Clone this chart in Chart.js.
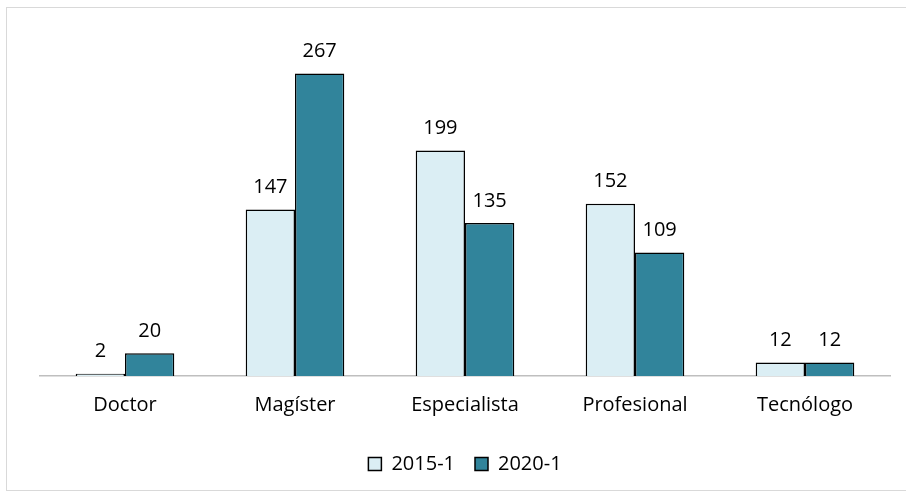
<!DOCTYPE html>
<html>
<head>
<meta charset="utf-8">
<script src="https://cdn.jsdelivr.net/npm/chart.js@4"></script>
<style>
  html, body { margin: 0; padding: 0; background: #fff; }
  #wrap { position: relative; width: 906px; height: 495px; }
  #frame { position: absolute; left: 6px; top: 7px; width: 905px; height: 484px; border: 1px solid #d9d9d9; box-sizing: border-box; }
  canvas { position: absolute; left: 0; top: 0; }
</style>
</head>
<body>
<div id="wrap">
  <div id="frame"></div>
  <canvas id="chart" width="906" height="495"></canvas>
</div>
<script>
const categories = ['Doctor', 'Magíster', 'Especialista', 'Profesional', 'Tecnólogo'];
const series2015 = [2, 147, 199, 152, 12];
const series2020 = [20, 267, 135, 109, 12];
const seriesNames = ['2015-1', '2020-1'];

const fontFamily = "'Open Sans', 'Noto Sans', sans-serif";

// draws the value above each bar
const barLabels = {
  id: 'barLabels',
  afterDatasetsDraw(chart) {
    const ctx = chart.ctx;
    ctx.save();
    ctx.font = '20px ' + fontFamily;
    ctx.fillStyle = '#000';
    ctx.textAlign = 'center';
    ctx.textBaseline = 'bottom';
    chart.data.datasets.forEach((ds, i) => {
      const meta = chart.getDatasetMeta(i);
      meta.data.forEach((bar, j) => {
        ctx.fillText(ds.data[j], bar.x, bar.y - 12);
      });
    });
    ctx.restore();
  }
};

new Chart(document.getElementById('chart'), {
  type: 'bar',
  data: {
    labels: categories,
    datasets: [
      {
        label: seriesNames[0],
        data: series2015,
        backgroundColor: '#dbeef4',
        borderColor: '#000',
        borderWidth: 1.5,
        borderSkipped: 'bottom'
      },
      {
        label: seriesNames[1],
        data: series2020,
        backgroundColor: '#31849b',
        borderColor: '#000',
        borderWidth: 1.5,
        borderSkipped: 'bottom'
      }
    ]
  },
  options: {
    responsive: false,
    animation: false,
    layout: { padding: { left: 40, right: 16, top: 36, bottom: 11 } },
    datasets: {
      bar: { categoryPercentage: 0.58, barPercentage: 1 }
    },
    scales: {
      x: {
        grid: { display: false },
        border: { color: '#bfbfbf', width: 1.5 },
        ticks: { color: '#000', font: { family: fontFamily, size: 20 }, padding: 9 },
        afterFit(scale) { scale.height = 58; }
      },
      y: {
        display: false,
        min: 0,
        max: 300
      }
    },
    plugins: {
      legend: {
        position: 'bottom',
        labels: {
          color: '#000',
          font: { family: fontFamily, size: 20 },
          boxWidth: 13,
          boxHeight: 13,
          padding: 20
        }
      },
      tooltip: { enabled: false }
    }
  },
  plugins: [barLabels]
});
</script>
</body>
</html>
